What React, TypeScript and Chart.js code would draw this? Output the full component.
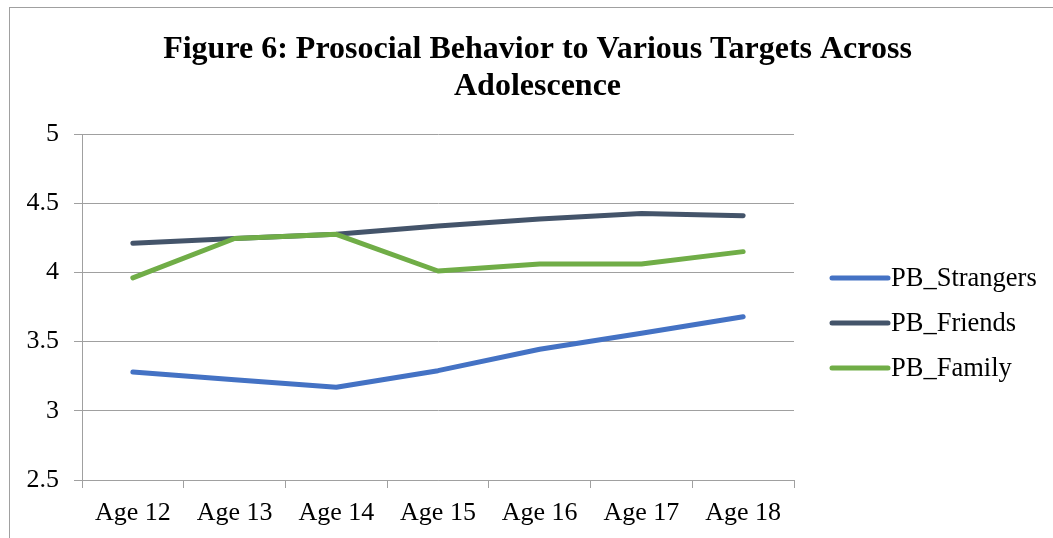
import React, { useEffect, useRef } from "react";
import { Chart, registerables } from "chart.js";

Chart.register(...registerables);

// Category labels along the x axis
const ageLabels = ["Age 12", "Age 13", "Age 14", "Age 15", "Age 16", "Age 17", "Age 18"];

// Mean prosocial behaviour scores per target
const strangers = [3.28, 3.225, 3.17, 3.29, 3.445, 3.56, 3.68];
const friends = [4.21, 4.245, 4.275, 4.335, 4.385, 4.425, 4.41];
const family = [3.96, 4.245, 4.275, 4.01, 4.06, 4.06, 4.15];

// Series names and colours
const seriesNames = ["PB_Strangers", "PB_Friends", "PB_Family"];
const seriesColors = ["#4472C4", "#44546A", "#70AD47"];

// Value axis tick labels
const yTickLabels = ["2.5", "3", "3.5", "4", "4.5", "5"];

const titleLines = ["Figure 6: Prosocial Behavior to Various Targets Across", "Adolescence"];

const SERIF = "'Liberation Serif', 'Times New Roman', serif";
const GRID = "#a0a0a0";
const LINE_WIDTH = 5;

// Legend drawn in the reserved right-hand strip, stacked with line samples
const sideLegend = {
  id: "sideLegend",
  afterDraw(chart: any) {
    const { ctx, chartArea } = chart;
    const midY = (chartArea.top + chartArea.bottom) / 2 + 16;
    const x0 = chartArea.right + 38;
    chart.data.datasets.forEach((ds: any, i: number) => {
      const y = midY + (i - 1) * 45;
      ctx.save();
      ctx.strokeStyle = ds.borderColor;
      ctx.lineWidth = LINE_WIDTH;
      ctx.lineCap = "round";
      ctx.beginPath();
      ctx.moveTo(x0, y);
      ctx.lineTo(x0 + 56, y);
      ctx.stroke();
      ctx.fillStyle = "#000";
      ctx.font = `26.5px ${SERIF}`;
      ctx.textBaseline = "middle";
      ctx.textAlign = "left";
      ctx.fillText(ds.label, x0 + 59, y + 1);
      ctx.restore();
    });
  },
};

export default function App() {
  const canvasRef = useRef<HTMLCanvasElement | null>(null);

  useEffect(() => {
    if (!canvasRef.current) return;
    const series = [strangers, friends, family];
    const chart = new Chart(canvasRef.current, {
      type: "line",
      data: {
        labels: ageLabels,
        datasets: series.map((values, i) => ({
          label: seriesNames[i],
          data: values,
          borderColor: seriesColors[i],
          backgroundColor: seriesColors[i],
          borderWidth: LINE_WIDTH,
          borderCapStyle: "round" as const,
          borderJoinStyle: "round" as const,
          pointRadius: 0,
          pointHoverRadius: 0,
          tension: 0,
          fill: false,
          order: 3 - i,
          yAxisID: "y",
        })),
      },
      options: {
        responsive: false,
        animation: false,
        devicePixelRatio: 1,
        layout: { padding: 0 },
        plugins: {
          legend: { display: false },
          tooltip: { enabled: false },
          title: {
            display: true,
            text: titleLines,
            color: "#000",
            font: { family: SERIF, size: 32, weight: "bold", lineHeight: 37 / 32 },
            padding: { top: 23, bottom: 29 },
          },
        },
        scales: {
          x: {
            type: "category",
            offset: true,
            grid: {
              display: true,
              offset: true,
              drawOnChartArea: false,
              drawTicks: true,
              tickLength: 8,
              color: GRID,
              lineWidth: 1,
            },
            border: { display: true, color: GRID, width: 1 },
            ticks: {
              color: "#000",
              font: { family: SERIF, size: 26 },
              padding: 10,
              maxRotation: 0,
              autoSkip: false,
            },
            afterFit: (scale: any) => {
              scale.height = 58;
            },
          },
          y: {
            position: "left",
            min: 2.5,
            max: 5,
            grid: {
              color: GRID,
              lineWidth: 1,
              drawTicks: true,
              tickLength: 8,
            },
            border: { display: true, color: GRID, width: 1 },
            ticks: {
              stepSize: 0.5,
              color: "#000",
              font: { family: SERIF, size: 26 },
              padding: 15,
              callback: (_v: any, index: number) => yTickLabels[index],
            },
            afterFit: (scale: any) => {
              scale.width = 72;
            },
          },
          // Empty right-hand strip that holds the legend
          legendSpace: {
            type: "linear",
            position: "right",
            display: true,
            grid: { display: false, drawOnChartArea: false, drawTicks: false },
            border: { display: false },
            ticks: { display: false },
            afterFit: (scale: any) => {
              scale.width = 271;
            },
          },
        },
      },
      plugins: [sideLegend],
    });
    return () => chart.destroy();
  }, []);

  return (
    <div
      style={{
        position: "fixed",
        left: 9,
        top: 7,
        width: 1080,
        height: 560,
        borderTop: "1px solid #a0a0a0",
        borderLeft: "1px solid #a0a0a0",
        background: "#fff",
        overflow: "hidden",
      }}
    >
      <canvas ref={canvasRef} width={1055} height={530} style={{ display: "block" }} />
    </div>
  );
}
